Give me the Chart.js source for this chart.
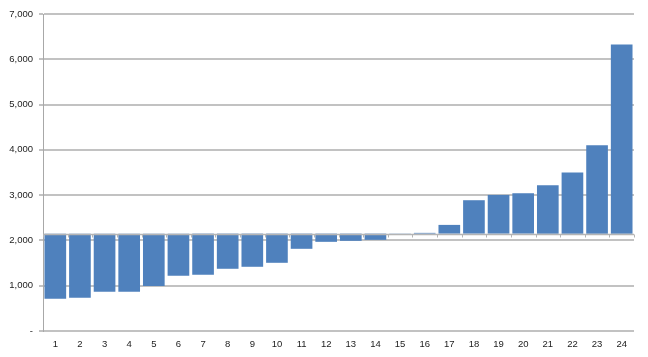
<!DOCTYPE html>
<html>
<head>
<meta charset="utf-8">
<script src="https://cdn.jsdelivr.net/npm/chart.js@4/dist/chart.umd.min.js"></script>
<style>
html,body{margin:0;padding:0;background:#fff;}
#wrap{width:648px;height:357px;position:relative;}
</style>
</head>
<body>
<div id="wrap"><canvas id="c" width="648" height="357"></canvas></div>
<script>
const categories = ['1','2','3','4','5','6','7','8','9','10','11','12','13','14','15','16','17','18','19','20','21','22','23','24'];
const values = [712, 735, 867, 867, 995, 1219, 1242, 1374, 1418, 1506, 1815, 1969, 1991, 2013, 2145, 2167, 2343, 2888, 3005, 3042, 3219, 3498, 4100, 6327];
const baseline = 2150;
const yTicks = [0, 1000, 2000, 3000, 4000, 5000, 6000, 7000];

const floating = values.map(v => [baseline, v]);

const baselinePlugin = {
  id: 'baselineAxis',
  afterDatasetsDraw(chart) {
    const {ctx, chartArea, scales} = chart;
    const y = Math.round(scales.y.getPixelForValue(baseline)) + 0.5;
    ctx.save();
    ctx.strokeStyle = '#b4b4b4';
    ctx.lineWidth = 1.5;
    ctx.beginPath();
    ctx.moveTo(chartArea.left, y);
    ctx.lineTo(chartArea.right, y);
    ctx.stroke();
    ctx.lineWidth = 1;
    const n = categories.length;
    const step = scales.x.getPixelForValue(1) - scales.x.getPixelForValue(0);
    for (let i = 0; i <= n; i++) {
      let x = i < n ? scales.x.getPixelForValue(i) - step / 2 : chartArea.right;
      x = Math.round(x) + 0.5;
      ctx.beginPath();
      ctx.moveTo(x, y);
      ctx.lineTo(x, y + 3);
      ctx.stroke();
    }
    ctx.restore();
  }
};

new Chart(document.getElementById('c'), {
  type: 'bar',
  data: {
    labels: categories,
    datasets: [{
      data: floating,
      backgroundColor: '#4f81bd',
      borderWidth: 0,
      barPercentage: 0.88,
      categoryPercentage: 1.0
    }]
  },
  options: {
    responsive: false,
    animation: false,
    devicePixelRatio: 1,
    layout: { padding: { top: 14, right: 14, left: 0, bottom: 0 } },
    plugins: { legend: { display: false }, tooltip: { enabled: false } },
    scales: {
      x: {
        grid: { display: false, drawTicks: false },
        border: { display: false },
        ticks: {
          color: '#222',
          font: { family: 'Liberation Sans', size: 9.5 },
          padding: 8,
          maxRotation: 0,
          autoSkip: false
        },
        afterFit(scale) { scale.height = 26; }
      },
      y: {
        min: 0,
        max: 7000,
        afterBuildTicks(scale) { scale.ticks = yTicks.map(v => ({ value: v })); },
        grid: { color: '#c2c2c2', lineWidth: 2, drawTicks: true, tickLength: 4 },
        border: { display: true, color: '#a8a8a8', width: 1 },
        ticks: {
          color: '#222',
          font: { family: 'Liberation Sans', size: 9.5 },
          padding: 6,
          callback: v => v === 0 ? '-' : v.toLocaleString('en-US')
        },
        afterFit(scale) { scale.width = 43; }
      }
    }
  },
  plugins: [baselinePlugin]
});
</script>
</body>
</html>
